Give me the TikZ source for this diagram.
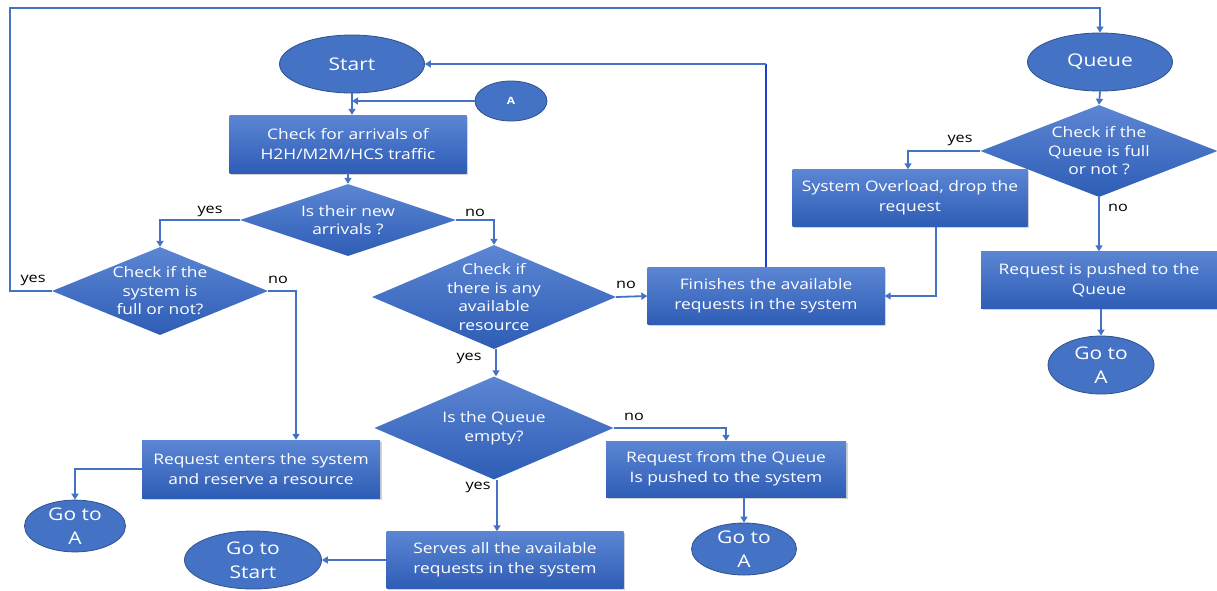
\documentclass[tikz,border=0pt]{standalone}
\usepackage{fontspec}
\setmainfont[FakeStretch=1.2]{Open Sans}
\usetikzlibrary{shapes.geometric,arrows.meta,shadows}
\definecolor{lc}{HTML}{4472C4}
\definecolor{dk}{HTML}{1F3FCC}
\definecolor{topc}{HTML}{5C86D3}
\definecolor{botc}{HTML}{2E5DB6}
\definecolor{elfill}{HTML}{4472C4}
\definecolor{eldraw}{HTML}{2F528F}
\begin{document}
\begin{tikzpicture}[x=1pt,y=-1pt,
  boxtxt/.style={font=\fontsize{14.5}{20}\selectfont,text=white,align=center},
  box/.style={rectangle,top color=topc,bottom color=botc,draw=none,boxtxt,
    drop shadow={shadow xshift=1.5pt,shadow yshift=-1.5pt,opacity=0.35}},
  dia/.style={diamond,top color=topc,bottom color=botc,draw=none,inner sep=0pt},
  dtxt/.style={font=\fontsize{14.5}{18.5}\selectfont,text=white,align=center,inner sep=0pt},
  term/.style={ellipse,fill=elfill,draw=eldraw,line width=0.8pt,text=white,align=center,inner sep=0pt},
  ln/.style={draw=lc,line width=1.8pt},
  arr/.style={ln,-{Triangle[length=6pt,width=7pt]}},
  lab/.style={font=\fontsize{13.5}{15}\selectfont,text=black,inner sep=0pt}]
\useasboundingbox (0,0) rectangle (1217,590);

% nodes
\node[term,minimum width=145pt,minimum height=58pt,font=\fontsize{17.5}{20}\selectfont] (start) at (352,64) {Start};
\node[term,minimum width=72pt,minimum height=40pt,font=\bfseries\fontsize{10}{12}\selectfont] (A1) at (511,101) {A};
\node[box,minimum width=237pt,minimum height=58pt] (chk) at (348,144) {Check for arrivals of\\H2H/M2M/HCS traffic};
\node[dia,minimum width=216pt,minimum height=72pt] (d1) at (348,220) {};
\node[dtxt] (d1t) at (d1) {Is their new\\arrivals ?};
\node[dia,minimum width=216pt,minimum height=88pt] (d2) at (160,291) {};
\node[dtxt] (d2t) at (d2) {Check if the\\system is\\full or not?};
\node[dia,minimum width=244pt,minimum height=104pt] (d3) at (494,297) {};
\node[dtxt] (d3t) at (d3) {Check if\\there is any\\available\\resource};
\node[box,minimum width=237pt,minimum height=57pt] (fin) at (766,296) {Finishes the available\\requests in the system};
\node[dia,minimum width=239pt,minimum height=103pt] (d4) at (494,428) {};
\node[dtxt] (d4t) at (d4) {Is the Queue\\empty?};
\node[box,minimum width=238pt,minimum height=58pt] (enter) at (261,469) {Request enters the system\\and reserve a resource};
\node[term,minimum width=101pt,minimum height=50pt,font=\fontsize{17.5}{24}\selectfont] (goA1) at (75,526) {Go to\\A};
\node[box,minimum width=237pt,minimum height=57pt] (serve) at (505,560) {Serves all the available\\requests in the system};
\node[term,minimum width=137pt,minimum height=58pt,font=\fontsize{17.5}{24}\selectfont] (goS) at (253,560) {Go to\\Start};
\node[box,minimum width=240pt,minimum height=56pt] (rq) at (726,469) {Request from the Queue\\Is pushed to the system};
\node[term,minimum width=105pt,minimum height=52pt,font=\fontsize{17.5}{24}\selectfont] (goA2) at (744,549) {Go to\\A};
\node[term,minimum width=145pt,minimum height=58pt,font=\fontsize{17.5}{20}\selectfont] (queue) at (1100,62) {Queue};
\node[dia,minimum width=237pt,minimum height=92pt] (d5) at (1099,151) {};
\node[dtxt] (d5t) at (d5) {Check if the\\Queue is full\\or not ?};
\node[box,minimum width=235pt,minimum height=57pt] (over) at (910,198) {System Overload, drop the\\request};
\node[box,minimum width=236pt,minimum height=57pt] (push) at (1099,280) {Request is pushed to the\\Queue};
\node[term,minimum width=106pt,minimum height=58pt,font=\fontsize{17.5}{24}\selectfont] (goA3) at (1101,365) {Go to\\A};

% helper coordinates
\coordinate (lp) at (10,8);
\coordinate (fc) at (fin.north |- start.east);

% connectors
\draw[arr] (start.south) -- (start.south |- chk.north);
\draw[arr] (A1.west) -- (start.south |- A1.west);
\draw[arr] (chk.south) -- (d1.north);
\draw[arr] (d1.west) -| (d2.north);
\draw[arr] (d1.east) -| (d3.north);
\draw[arr] (d2.west) -| (lp) -| (queue.north);
\draw[arr] (d2.east) -| ([xshift=35pt]enter.north);
\draw[arr] (d3.east) -- (fin.west);
\draw[arr] ([xshift=2pt]d3.south) -- ([xshift=2pt]d4.north);
\draw[draw=dk,line width=2.2pt] (fin.north) -- (fc);
\draw[arr] (fc) -- (start.east);
\draw[arr] (d4.east) -| (rq.north);
\draw[arr] ([xshift=3pt]d4.south) -- ([xshift=3pt]d4.south |- serve.north);
\draw[arr] (enter.west) -| (goA1.north);
\draw[arr] (serve.west) -- (goS.east);
\draw[arr] (goA2.north |- rq.south) -- (goA2.north);
\draw[arr] (queue.south) -- (d5.north);
\draw[arr] (d5.west) -| ([xshift=-2pt]over.north);
\draw[arr] (d5.south) -- (push.north);
\draw[arr] ([xshift=26pt]over.south) |- (fin.east);
\draw[arr] (goA3.north |- push.south) -- (goA3.north);

% labels
\node[lab] (l1) at (210,211) {yes};
\node[lab] (l2) at (475,213) {no};
\node[lab] (l3) at (33,280) {yes};
\node[lab] (l4) at (278,280) {no};
\node[lab] (l5) at (626,285) {no};
\node[lab] (l6) at (469,358) {yes};
\node[lab] (l7) at (634,417) {no};
\node[lab] (l8) at (478,487) {yes};
\node[lab] (l9) at (960,140) {yes};
\node[lab] (l10) at (1118,208) {no};
\end{tikzpicture}
\end{document}
